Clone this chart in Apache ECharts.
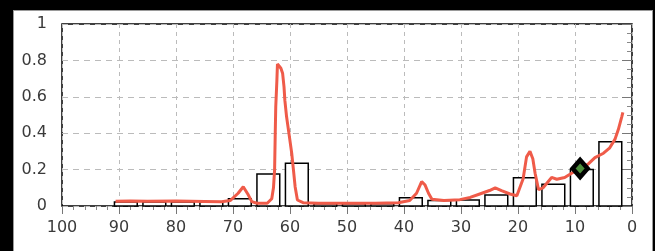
<!DOCTYPE html>
<html>
<head>
<meta charset="utf-8">
<script src="https://cdn.jsdelivr.net/npm/echarts@6/dist/echarts.min.js"></script>
<style>
  html, body { margin: 0; padding: 0; background: #000; }
  #panel {
    position: absolute; left: 13px; top: 10px; width: 640px; height: 245px;
    box-sizing: border-box; background: #fff; border: 1px solid #9a9a9a;
  }
  #chart { width: 638px; height: 240px; }
</style>
</head>
<body>
<div id="panel"><div id="chart"></div></div>
<script>
// bins (centre of each bar, in x units) and bar heights
var binCenters = [88.8, 83.8, 78.8, 73.8, 68.8, 63.8, 58.8, 53.8, 48.8, 43.8, 38.8, 33.8, 28.8, 23.8, 18.8, 13.8, 8.8, 3.8];
var binHeights = [0.022, 0.022, 0.022, 0.02, 0.04, 0.176, 0.235, 0.012, 0.012, 0.012, 0.045, 0.03, 0.033, 0.06, 0.155, 0.12, 0.2, 0.353];
var binHalf = 2;

// red curve
var curveX = [90.6, 88, 85, 80, 75, 72, 70.5, 69.1, 68.2, 67.3, 66.7, 65.8, 64, 63.2, 62.9, 62.7, 62.6, 62.5, 62.3, 62.2, 61.9, 61.6, 61.3, 61.05, 60.9, 60.6, 60.1, 59.7, 59.4, 59.1, 58.7, 57.7, 55, 50, 45, 41, 39, 37.8, 36.9, 36.3, 35.7, 35.1, 33, 30.2, 28.4, 26.7, 25, 24, 22.9, 21.4, 20.2, 19.1, 18.5, 17.9, 17.4, 17, 16.4, 15.6, 14.1, 13.2, 11.8, 10.6, 9.1, 7.7, 6.5, 5, 3.9, 3, 2.4, 1.8, 1.6];
var curveY = [0.026, 0.027, 0.026, 0.027, 0.025, 0.023, 0.03, 0.07, 0.106, 0.06, 0.024, 0.015, 0.015, 0.04, 0.1, 0.2, 0.38, 0.545, 0.69, 0.78, 0.78, 0.757, 0.73, 0.655, 0.58, 0.49, 0.38, 0.29, 0.2, 0.106, 0.033, 0.018, 0.015, 0.015, 0.015, 0.018, 0.03, 0.07, 0.134, 0.115, 0.07, 0.037, 0.03, 0.035, 0.047, 0.066, 0.085, 0.1, 0.084, 0.066, 0.056, 0.15, 0.27, 0.3, 0.26, 0.18, 0.09, 0.1, 0.157, 0.147, 0.157, 0.18, 0.206, 0.23, 0.266, 0.29, 0.32, 0.366, 0.42, 0.49, 0.515];

// marker point
var markX = 9.1, markY = 0.206;

var barData = binCenters.map(function (c, i) { return [c, binHeights[i]]; });
var curveData = curveX.map(function (x, i) { return [x, curveY[i]]; });

var chart = echarts.init(document.getElementById('chart'));
chart.setOption({
  animation: false,
  textStyle: { fontFamily: 'DejaVu Sans' },
  grid: {
    left: 48, right: 20, top: 13, bottom: 45,
    show: true, borderColor: '#000', borderWidth: 1.5,
    outerBoundsMode: 'none'
  },
  xAxis: {
    type: 'value', min: 0, max: 100, interval: 10, inverse: true,
    axisLine: { show: false },
    axisTick: { show: true, length: 8, lineStyle: { color: '#777' } },
    minorTick: { show: true, splitNumber: 5, length: 4, lineStyle: { color: '#888' } },
    axisLabel: { fontSize: 16, color: '#3a3a3a', margin: 14 },
    splitLine: { show: true, lineStyle: { color: '#bbb', type: [4, 4] } }
  },
  yAxis: {
    type: 'value', min: 0, max: 1, interval: 0.2,
    axisLine: { show: false },
    axisTick: { show: true, length: 10, lineStyle: { color: '#777' } },
    minorTick: { show: true, splitNumber: 4, length: 5, lineStyle: { color: '#888' } },
    axisLabel: { fontSize: 16, color: '#3a3a3a', margin: 15 },
    splitLine: { show: true, lineStyle: { color: '#bbb', type: [6, 5] } }
  },
  series: [
    {
      type: 'custom',
      z: 2,
      data: barData,
      encode: { x: 0, y: 1 },
      renderItem: function (params, api) {
        var c = api.value(0), h = api.value(1);
        var p0 = api.coord([c + binHalf, h]);
        var p1 = api.coord([c - binHalf, 0]);
        return {
          type: 'rect',
          shape: {
            x: Math.min(p0[0], p1[0]), y: p0[1],
            width: Math.abs(p1[0] - p0[0]), height: p1[1] - p0[1]
          },
          style: { fill: '#fff', stroke: '#000', lineWidth: 1.5 }
        };
      }
    },
    {
      type: 'line',
      z: 3,
      data: curveData,
      symbol: 'none',
      lineStyle: { color: '#ef5b49', width: 3 }
    },
    {
      type: 'scatter',
      z: 4,
      data: [[markX, markY]],
      symbol: 'diamond',
      symbolSize: [15, 17],
      itemStyle: { color: '#4d8f3c', borderColor: '#000', borderWidth: 4.5, opacity: 1 }
    }
  ]
});
window.addEventListener('resize', chart.resize);
</script>
</body>
</html>
